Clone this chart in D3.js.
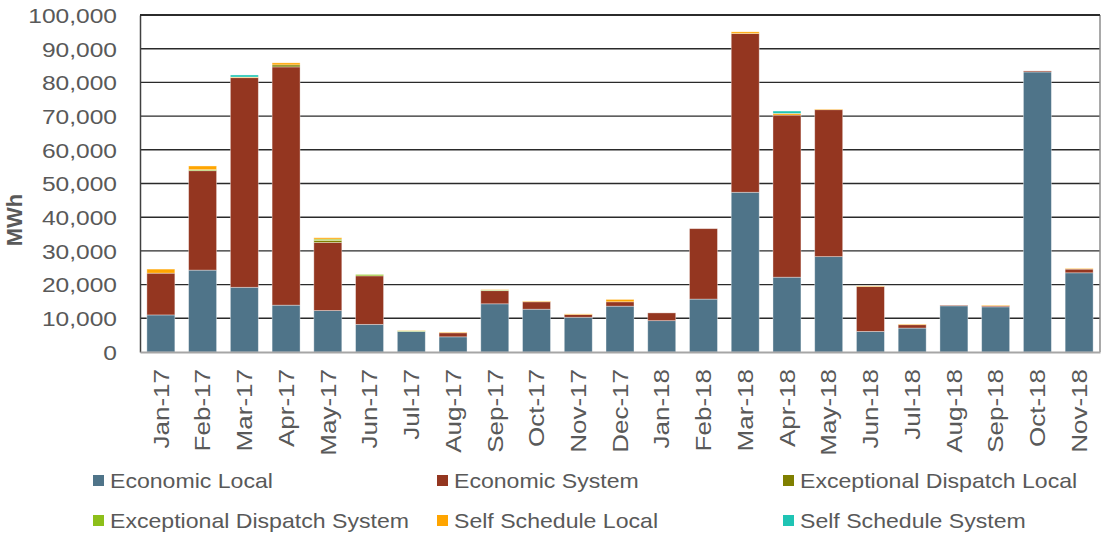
<!DOCTYPE html>
<html>
<head>
<meta charset="utf-8">
<script src="https://cdn.jsdelivr.net/npm/d3@7"></script>
<style>
  html, body { margin: 0; padding: 0; background: #fff; }
  svg text { font-family: "Liberation Sans", Arial, sans-serif; fill: #595959; }
</style>
</head>
<body>
<svg id="chart" width="1102" height="533"></svg>
<script>
// Monthly MWh by dispatch category
const months = ["Jan-17","Feb-17","Mar-17","Apr-17","May-17","Jun-17","Jul-17","Aug-17","Sep-17","Oct-17","Nov-17","Dec-17",
                "Jan-18","Feb-18","Mar-18","Apr-18","May-18","Jun-18","Jul-18","Aug-18","Sep-18","Oct-18","Nov-18"];

const economicLocal        = [11000,24300,19200,13900,12300,8200,6100,4500,14300,12700,10300,13600,9300,15700,47400,22200,28300,6100,7100,13700,13400,83100,23500];
const economicSystem       = [12400,29500,62200,70700,20200,14400,0,1200,3900,2200,800,1300,2300,20900,47100,48100,43600,13300,1000,200,300,300,1100];
const exceptionalLocal     = [0,0,0,600,600,0,0,0,0,0,0,0,0,0,0,0,0,0,0,0,0,0,0];
const exceptionalSystem    = [0,300,0,0,400,400,200,0,200,0,0,0,0,0,0,0,0,0,0,0,0,0,0];
const selfScheduleLocal    = [1200,1100,200,600,400,0,100,200,100,200,200,700,0,0,500,500,200,200,200,0,200,0,200];
const selfScheduleSystem   = [0,0,600,0,0,0,0,0,0,0,0,0,0,0,0,700,0,0,0,0,0,0,0];

const seriesNames  = ["Economic Local","Economic System","Exceptional Dispatch Local","Exceptional Dispatch System","Self Schedule Local","Self Schedule System"];
const seriesValues = [economicLocal, economicSystem, exceptionalLocal, exceptionalSystem, selfScheduleLocal, selfScheduleSystem];
const seriesColors = ["#4f7489","#943620","#7f7f00","#8dbf1a","#ffa500","#1fc4b4"];
const yTicks = [0,10000,20000,30000,40000,50000,60000,70000,80000,90000,100000];

const svg = d3.select("#chart");
const m = { left: 140, right: 1100, top: 15, bottom: 352 };
const TXT = 1.17; // horizontal glyph stretch of the labels

const rows = months.map((mo, i) => {
  const r = { month: mo };
  seriesNames.forEach((s, k) => r[s] = seriesValues[k][i]);
  return r;
});
const stacked = d3.stack().keys(seriesNames)(rows);

const x = d3.scaleBand().domain(months).range([m.left, m.right]).paddingInner(0.33).paddingOuter(0.165);
const y = d3.scaleLinear().domain([0, 100000]).range([m.bottom, m.top]);

// gridlines
svg.append("g").selectAll("line").data(yTicks.filter(t => t > 0)).join("line")
  .attr("x1", m.left).attr("x2", m.right)
  .attr("y1", d => y(d)).attr("y2", d => y(d))
  .attr("stroke", "#2a2a2a").attr("stroke-width", 1.4);

// right border
svg.append("line").attr("x1", m.right).attr("x2", m.right).attr("y1", m.top).attr("y2", m.bottom)
  .attr("stroke", "#8c8c8c").attr("stroke-width", 1.5);

// stacked bars
svg.append("g").selectAll("g").data(stacked).join("g")
  .attr("fill", (d, i) => seriesColors[i])
  .selectAll("rect").data(d => d).join("rect")
  .attr("x", d => x(d.data.month))
  .attr("width", x.bandwidth())
  .attr("y", d => y(d[1]))
  .attr("height", d => Math.max(0, y(d[0]) - y(d[1])))
  .attr("stroke", "rgba(255,255,255,0.45)").attr("stroke-width", 0.8);

// y axis
const yAxis = svg.append("g").attr("transform", `translate(${m.left},0)`)
  .call(d3.axisLeft(y).tickValues(yTicks).tickFormat(d3.format(",")).tickSize(0).tickPadding(0));
yAxis.select(".domain").attr("stroke", "#404040").attr("stroke-width", 1.5);
yAxis.selectAll("text")
  .attr("x", -23 / TXT).attr("dy", "0.35em")
  .attr("transform", `scale(${TXT},1)`)
  .style("font-size", "21px").style("fill", "#595959");

// x axis
const xAxis = svg.append("g").attr("transform", `translate(0,${m.bottom})`)
  .call(d3.axisBottom(x).tickSize(0).tickPadding(0));
xAxis.select(".domain").attr("stroke", "#a6a6a6").attr("stroke-width", 2);
xAxis.selectAll("text")
  .attr("text-anchor", "end")
  .attr("x", 0).attr("y", 0)
  .attr("transform", `translate(0,17) rotate(-90) scale(1.21,1)`)
  .attr("dy", "0.36em")
  .style("font-size", "21.5px").style("fill", "#595959");

// top border
svg.append("line").attr("x1", m.left).attr("x2", m.right).attr("y1", m.top).attr("y2", m.top)
  .attr("stroke", "#1a1a1a").attr("stroke-width", 1.5);

// y title
svg.append("text")
  .attr("transform", "translate(22,220) rotate(-90)")
  .attr("text-anchor", "middle")
  .style("font-size", "22px").style("font-weight", "bold").style("fill", "#595959")
  .text("MWh");

// legend
const LG = 1.155;
const legendCols = [93, 437, 783];
const legendRows = [481, 521];
const lg = svg.append("g").selectAll("g").data(seriesNames).join("g")
  .attr("transform", (d, i) => `translate(${legendCols[i % 3]},${legendRows[Math.floor(i / 3)]})`);
lg.append("rect").attr("x", 0).attr("y", -6).attr("width", 11).attr("height", 11)
  .attr("fill", (d, i) => seriesColors[i]);
lg.append("text")
  .attr("x", 17 / LG).attr("dy", "0.35em")
  .attr("transform", `scale(${LG},1)`)
  .style("font-size", "20px").style("fill", "#595959")
  .text(d => d);
</script>
</body>
</html>
